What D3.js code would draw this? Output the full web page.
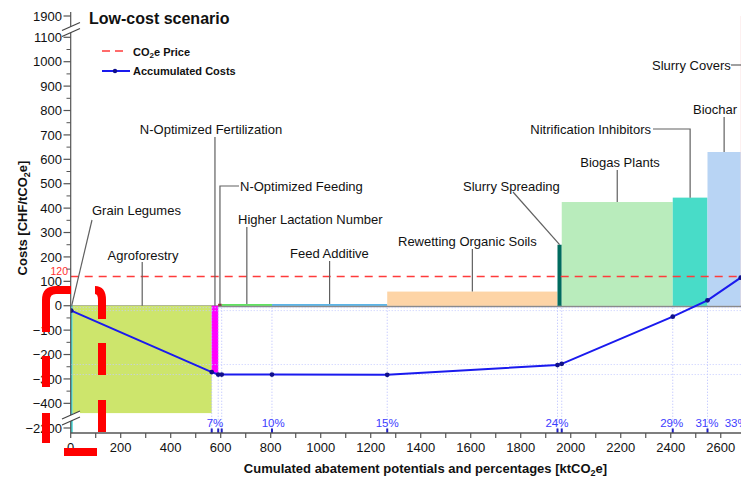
<!DOCTYPE html>
<html><head><meta charset="utf-8">
<script src="https://cdn.jsdelivr.net/npm/d3@7"></script>
<style>
html,body{margin:0;padding:0;background:#fff;}
svg{display:block;font-family:"Liberation Sans",Arial,sans-serif;}
</style></head>
<body>
<svg id="chart" width="741" height="478"></svg>
<script>
// ---------- DATA ----------
const measures = ["Grain Legumes","Agroforestry","N-Optimized Fertilization","N-Optimized Feeding",
  "Higher Lactation Number","Feed Additive","Rewetting Organic Soils","Slurry Spreading",
  "Biogas Plants","Nitrification Inhibitors","Biochar","Slurry Covers"];
const potentials = [8, 556, 26, 14, 201, 461, 681, 17, 444, 139, 133, 120];      // ktCO2e
const costs = [-2220, -440, -275, 8, 7, 7, 58, 250, 425, 443, 630, 1900];        // CHF/tCO2e
const colors = ["#3fd3d3","#cde56c","#ff00ff","#8b1a1a","#5fe35f","#5ab4e8","#fdd4a6",
  "#006b5f","#b9ecbc","#48dcc8","#b8d4f4","#f4c2c2"];
const accumulated = [-20, -272, -282, -282, -282, -283, -243, -238, -45, 22, 115, 300]; // Mio CHF
const pctLabels = ["7%","10%","15%","24%","29%","31%","33%"];
const pctAt = [577, 810, 1266, 1945, 2404, 2545, 2662];
const co2Price = 120;
const xTicks = [0,200,400,600,800,1000,1200,1400,1600,1800,2000,2200,2400,2600];
const yTicks = [1900,1100,1000,900,800,700,600,500,400,300,200,100,0,-100,-200,-300,-400,-2200];
const guideLevels = [-8, -20, -241, -282];

// ---------- SCALES ----------
const svg = d3.select("#chart");
const x = d3.scaleLinear().domain([0, 2681]).range([70.7, 741]);
const y = d3.scaleLinear()
  .domain([-2220, -2200, -465, 1125, 1900, 1920])
  .range([433, 428, 419.2, 31.2, 16, 12]);

let cum = 0;
const bars = measures.map((m,i)=>{ const b={name:m,x0:cum,x1:cum+potentials[i],cost:costs[i],color:colors[i]}; cum+=potentials[i]; return b;});
const linePts = bars.map((b,i)=>({x: i===0 ? 2 : b.x1, v: accumulated[i]}));

svg.append("defs").append("clipPath").attr("id","plot")
  .append("rect").attr("x",70.7).attr("y",0).attr("width",741-70.7).attr("height",434);

const plot = svg.append("g").attr("clip-path","url(#plot)");

// zero line (under the bars)
plot.append("line").attr("x1",x(0)).attr("x2",741).attr("y1",y(0)+0.5).attr("y2",y(0)+0.5)
  .attr("stroke","#8a8a8a").attr("stroke-width",2);

// bars
plot.selectAll("rect.bar").data(bars).enter().append("rect")
  .attr("x", d=>x(d.x0)).attr("width", d=>Math.max(1.5, x(d.x1)-x(d.x0)))
  .attr("y", d=>Math.min(y(d.cost), y(0)))
  .attr("height", d=>Math.abs(y(d.cost)-y(0)))
  .attr("fill", d=>d.color);

// guides
const bounds = bars.slice(1,10).map(b=>b.x1);
plot.selectAll("line.vg").data(bounds).enter().append("line")
  .attr("x1",d=>x(d)).attr("x2",d=>x(d)).attr("y1",y(0)+2).attr("y2",433)
  .attr("stroke","#b4baff").attr("stroke-width",1).attr("stroke-dasharray","1,2");
plot.selectAll("line.hg").data(guideLevels).enter().append("line")
  .attr("x1",x(0)).attr("x2",741).attr("y1",d=>y(d)).attr("y2",d=>y(d))
  .attr("stroke","#c4caff").attr("stroke-width",1).attr("stroke-dasharray","1,2");

// price line
plot.append("line").attr("x1",x(0)).attr("x2",741).attr("y1",y(co2Price)).attr("y2",y(co2Price))
  .attr("stroke","#ff3b3b").attr("stroke-width",1.5).attr("stroke-dasharray","8,6");

// accumulated line
plot.append("path").datum(linePts)
  .attr("d", d3.line().x(d=>x(d.x)).y(d=>y(d.v)))
  .attr("fill","none").attr("stroke","#1a1aee").attr("stroke-width",2);
plot.selectAll("circle.pt").data(linePts).enter().append("circle")
  .attr("cx",d=>x(d.x)).attr("cy",d=>y(d.v)).attr("r",2.4).attr("fill","#10108a");

// percent labels
svg.selectAll("text.pct").data(pctLabels).enter().append("text")
  .attr("x",(d,i)=>x(pctAt[i])).attr("y",427).attr("text-anchor","middle")
  .attr("font-size",11.5).attr("fill","#3c3cff").text(d=>d);
svg.selectAll("line.pm").data(bounds).enter().append("line")
  .attr("x1",d=>x(d)).attr("x2",d=>x(d)).attr("y1",428.5).attr("y2",433)
  .attr("stroke","#2020c0").attr("stroke-width",2);

// annotations
const cx = i => x((bars[i].x0+bars[i].x1)/2);
const ann = [
  {i:0, t:"Grain Legumes", tx:92, ty:214.5, a:"start", p:()=>`M${x(4)},${y(0)}L92,220`},
  {i:1, t:"Agroforestry", tx:143, ty:259.5, a:"middle", p:()=>`M${cx(1)},262V${y(0)}`},
  {i:2, t:"N-Optimized Fertilization", tx:211, ty:133.5, a:"middle", p:()=>`M${cx(2)},137V${y(0)}`},
  {i:3, t:"N-Optimized Feeding", tx:240, ty:190.5, a:"start", p:()=>`M239,186H${cx(3)}V${y(0)}`},
  {i:4, t:"Higher Lactation Number", tx:238, ty:223.5, a:"start", p:()=>`M${cx(4)},227V${y(costs[4])}`},
  {i:5, t:"Feed Additive", tx:290, ty:257.5, a:"start", p:()=>`M${cx(5)},261V${y(costs[5])}`},
  {i:6, t:"Rewetting Organic Soils", tx:398, ty:245.5, a:"start", p:()=>`M${cx(6)},249V${y(costs[6])}`},
  {i:7, t:"Slurry Spreading", tx:463, ty:190.5, a:"start", p:()=>`M513,192L${cx(7)},${y(costs[7])}`},
  {i:8, t:"Biogas Plants", tx:620, ty:166.5, a:"middle", p:()=>`M${cx(8)},170V${y(costs[8])}`},
  {i:9, t:"Nitrification Inhibitors", tx:651, ty:133.5, a:"end", p:()=>`M653,129H${cx(9)}V${y(costs[9])}`},
  {i:10, t:"Biochar", tx:693, ty:113.5, a:"start", p:()=>`M${cx(10)},117V${y(costs[10])}`},
  {i:11, t:"Slurry Covers", tx:652, ty:69.5, a:"start", p:()=>`M731,65H745`}
];
const ag = svg.append("g");
ag.selectAll("path").data(ann).enter().append("path")
  .attr("d",d=>d.p()).attr("fill","none").attr("stroke","#606060").attr("stroke-width",1.2);
ag.selectAll("text").data(ann).enter().append("text")
  .attr("x",d=>d.tx).attr("y",d=>d.ty).attr("text-anchor",d=>d.a)
  .attr("font-size",13).attr("fill","#111").text(d=>d.t);

// price label
svg.append("text").attr("x",68).attr("y",275).attr("text-anchor","end")
  .attr("font-size",10.5).attr("fill","#ff3030").text(co2Price);

// ---------- AXES ----------
const axisCol = "#555";
const ya = svg.append("g");
ya.append("line").attr("x1",70.7).attr("x2",70.7).attr("y1",12).attr("y2",433).attr("stroke",axisCol).attr("stroke-width",1.2);
ya.selectAll("line.t").data(yTicks).enter().append("line")
  .attr("x1",63.5).attr("x2",70.7).attr("y1",d=>y(d)).attr("y2",d=>y(d)).attr("stroke",axisCol).attr("stroke-width",1.2);
const minorY = d3.range(-350, 1100, 100);
ya.selectAll("line.m").data(minorY).enter().append("line")
  .attr("x1",66.5).attr("x2",70.7).attr("y1",d=>y(d)).attr("y2",d=>y(d)).attr("stroke",axisCol).attr("stroke-width",1);
ya.selectAll("text").data(yTicks).enter().append("text")
  .attr("x",62).attr("y",d=>y(d)+4.6).attr("text-anchor","end").attr("font-size",13).attr("fill","#111")
  .text(d=>d<0 ? "\u2212"+Math.abs(d) : d);

const xa = svg.append("g");
xa.append("line").attr("x1",70.7).attr("x2",741).attr("y1",433).attr("y2",433).attr("stroke",axisCol).attr("stroke-width",1.5);
xa.selectAll("line.t").data(d3.range(0,2700,100)).enter().append("line")
  .attr("x1",d=>x(d)).attr("x2",d=>x(d)).attr("y1",433).attr("y2",438).attr("stroke",axisCol).attr("stroke-width",1.2);
xa.selectAll("text").data(xTicks).enter().append("text")
  .attr("x",d=>x(d)).attr("y",451.5).attr("text-anchor","middle").attr("font-size",13).attr("fill","#111").text(d=>d);

// axis breaks
function brk(y1){
  svg.append("path").attr("d",`M62,${y1+1}L80,${y1-7}L80,${y1-1}L62,${y1+7}Z`).attr("fill","#fff");
  svg.append("line").attr("x1",62).attr("y1",y1+1).attr("x2",80).attr("y2",y1-7).attr("stroke","#444").attr("stroke-width",1.1);
  svg.append("line").attr("x1",62).attr("y1",y1+7).attr("x2",80).attr("y2",y1-1).attr("stroke","#444").attr("stroke-width",1.1);
}
brk(29.5); brk(418);

// axis titles
svg.append("text").attr("x",425.5).attr("y",473).attr("text-anchor","middle")
  .attr("font-size",13).attr("font-weight","bold").attr("fill","#111")
  .html('Cumulated abatement potentials and percentages [ktCO<tspan dy="3" font-size="9">2</tspan><tspan dy="-3">e]</tspan>');
svg.append("text").attr("transform","translate(26.5,218) rotate(-90)").attr("text-anchor","middle")
  .attr("font-size",13).attr("font-weight","bold").attr("fill","#111")
  .html('Costs [CHF/tCO<tspan dy="3" font-size="9">2</tspan><tspan dy="-3">e]</tspan>');

// title
svg.append("text").attr("x",89).attr("y",24).attr("font-size",16).attr("font-weight","bold").attr("fill","#111").text("Low-cost scenario");

// legend
const lg = svg.append("g");
lg.append("line").attr("x1",102).attr("x2",124).attr("y1",51).attr("y2",51).attr("stroke","#ff3b3b").attr("stroke-width",1.5).attr("stroke-dasharray","8,5");
lg.append("text").attr("x",133).attr("y",55.5).attr("font-size",11).attr("font-weight","bold").attr("fill","#111")
  .html('CO<tspan dy="2.5" font-size="8">2</tspan><tspan dy="-2.5">e Price</tspan>');
lg.append("line").attr("x1",102).attr("x2",130).attr("y1",71).attr("y2",71).attr("stroke","#1a1aee").attr("stroke-width",2);
lg.append("circle").attr("cx",115).attr("cy",71).attr("r",2.2).attr("fill","#10108a");
lg.append("text").attr("x",133).attr("y",75).attr("font-size",11).attr("font-weight","bold").attr("fill","#111").text("Accumulated Costs");

// red overlay marks
const red = svg.append("g").attr("fill","none").attr("stroke","#ff0000").attr("stroke-width",8);
["M46,332L46,300Q46,290 56,290L71,290","M46,356L46,387","M46,413L46,443",
 "M95,290Q102,290 102,300L102,319","M102,343L102,375","M102,400L102,432","M64,452L97,452"]
 .forEach(p=>red.append("path").attr("d",p));
</script>
</body></html>
